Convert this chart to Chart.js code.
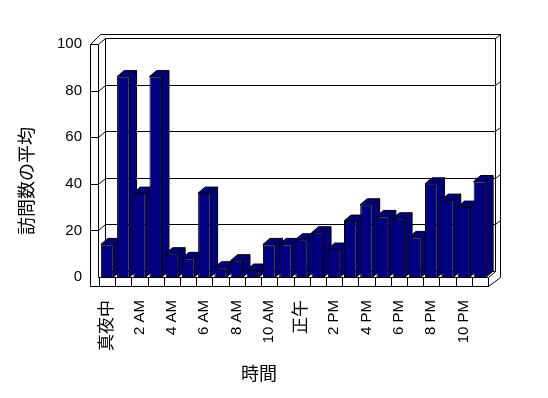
<!DOCTYPE html>
<html>
<head>
<meta charset="utf-8">
<script src="https://cdn.jsdelivr.net/npm/chart.js@4.4.1/dist/chart.umd.min.js"></script>
<style>
  body { margin: 0; background: #fff; }
  #wrap { width: 548px; height: 398px; }
</style>
</head>
<body>
<div id="wrap"><canvas id="chart"></canvas></div>
<script>
var hours = ["真夜中", "1 AM", "2 AM", "3 AM", "4 AM", "5 AM", "6 AM", "7 AM", "8 AM", "9 AM", "10 AM", "11 AM",
             "正午", "1 PM", "2 PM", "3 PM", "4 PM", "5 PM", "6 PM", "7 PM", "8 PM", "9 PM", "10 PM", "11 PM"];
var visits = [14, 86, 36, 86, 10, 8, 36, 4, 7, 3, 14, 14, 16, 19, 12, 24, 31, 26, 25, 17, 40, 33, 30, 41];
var yTitle = "訪問数の平均";
var xTitle = "時間";

var FONT = "'Liberation Sans', 'Noto Sans CJK JP', sans-serif";
var DX = 7, DY = -6;   // depth of the 3d look

// walls, floor, gridlines and the top/side faces of the bars
var frame3d = {
  id: "frame3d",
  beforeDatasetsDraw: function(chart) {
    var c = chart.ctx, xs = chart.scales.x, ys = chart.scales.y;
    var L = xs.left, R = xs.right, T = ys.getPixelForValue(100), B = ys.getPixelForValue(0);
    var inner = L - 1, outer = L - 9, backL = inner + DX, backR = R + DX, outR = backR + 5;
    var backT = T + DY, outT = backT - 4, backB = B + DY, floorB = B + 9;
    var px = function(v) { return Math.round(v) + 0.5; };
    var line = function(x1, y1, x2, y2) {
      c.beginPath(); c.moveTo(px(x1), px(y1)); c.lineTo(px(x2), px(y2)); c.stroke();
    };
    c.save();
    c.strokeStyle = "#000";
    c.lineWidth = 1;

    // back wall
    line(backL, backT, backR, backT);
    line(backR, backT, backR, backB);
    line(backL, backT, backL, backB);
    line(backL, backB, backR, backB);
    line(outer + 10, outT, outR, outT);
    line(outR, outT, outR, B);
    line(backR, backT, outR, outT);
    // gridlines
    for (var v = 20; v < 100; v += 20) {
      var yb = ys.getPixelForValue(v) + DY;
      line(backL, yb, backR, yb);
      line(backR, yb, outR, yb - 4);
    }
    // left wall
    line(outer, T, outer, floorB);
    line(inner, T, inner, B);
    line(outer, T, inner, T);
    line(inner, T, backL, backT);
    line(outer, T, outer + 10, outT);
    for (var v = 20; v < 100; v += 20) {
      var yf = ys.getPixelForValue(v);
      line(outer, yf, inner, yf);
      line(inner, yf, backL, yf + DY);
    }
    // floor
    line(inner, B, R, B);
    line(outer, floorB, R, floorB);
    line(R, B, backR, backB);
    line(R, floorB, outR, B);
    var w = (R - L) / hours.length;
    for (var i = 0; i <= hours.length; i++) {
      line(L + i * w, B, L + i * w, floorB);
    }

    // bar tops and sides
    var bars = chart.getDatasetMeta(0).data;
    c.fillStyle = "#000080";
    for (var i = 0; i < bars.length; i++) {
      var b = bars[i], l = b.x - b.width / 2, r = b.x + b.width / 2, t = b.y, base = b.base;
      c.beginPath();
      c.moveTo(l, t); c.lineTo(r, t); c.lineTo(r + DX, t + DY); c.lineTo(l + DX, t + DY); c.closePath();
      c.fill(); c.stroke();
      c.beginPath();
      c.moveTo(r, t); c.lineTo(r + DX, t + DY); c.lineTo(r + DX, base + DY); c.lineTo(r, base); c.closePath();
      c.fill(); c.stroke();
    }
    c.restore();
  },
  afterDraw: function(chart) {
    var c = chart.ctx;
    c.save();
    c.fillStyle = "#000";
    c.font = "18px " + FONT;
    c.textAlign = "center";
    c.textBaseline = "middle";
    c.fillText(xTitle, 259, 375);
    c.translate(28, 181);
    c.rotate(-Math.PI / 2);
    c.fillText(yTitle, 0, 0);
    c.restore();
  }
};

new Chart(document.getElementById("chart"), {
  type: "bar",
  data: {
    labels: hours,
    datasets: [{
      data: visits,
      backgroundColor: "#000080",
      borderColor: "#000",
      borderWidth: 1,
      barPercentage: 0.77,
      categoryPercentage: 1
    }]
  },
  options: {
    responsive: true,
    maintainAspectRatio: false,
    animation: false,
    layout: { padding: { left: 0, right: 60, top: 44, bottom: 0 } },
    plugins: { legend: { display: false }, tooltip: { enabled: false } },
    scales: {
      x: {
        grid: { display: false, drawTicks: false },
        border: { display: false },
        ticks: {
          autoSkip: false,
          minRotation: 90,
          maxRotation: 90,
          padding: 23,
          color: "#000",
          font: function(ctx) {
            var lbl = hours[ctx.index] || "";
            return { size: /[^\x00-\x7f]/.test(lbl) ? 17 : 15, family: FONT };
          },
          callback: function(v, i) { return i % 2 ? "" : hours[i]; }
        },
        afterFit: function(s) { s.height = 121; }
      },
      y: {
        min: 0,
        max: 100,
        grid: { display: false, drawTicks: false },
        border: { display: false },
        ticks: { stepSize: 20, padding: 17, color: "#000", font: { size: 15, family: FONT } },
        afterFit: function(s) { s.width = 99; }
      }
    }
  },
  plugins: [frame3d]
});
</script>
</body>
</html>
